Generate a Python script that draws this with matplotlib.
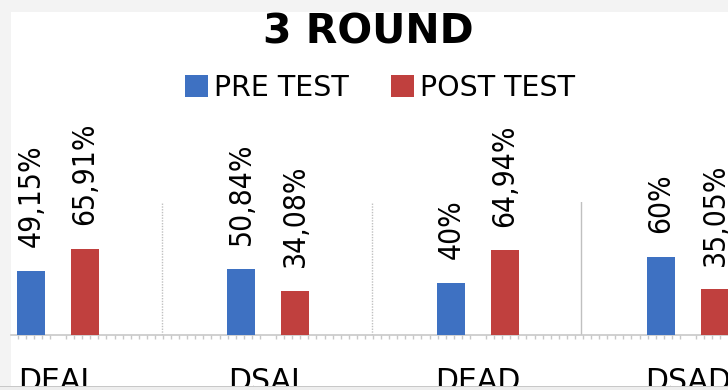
import matplotlib
matplotlib.use("Agg")
import matplotlib.pyplot as plt
from matplotlib.patches import Rectangle
from matplotlib.ticker import FixedLocator
import numpy as np

categories = ["DEAL", "DSAL", "DEAD", "DSAD"]
pre_test = [49.15, 50.84, 40, 60]
post_test = [65.91, 34.08, 64.94, 35.05]
series_names = ["PRE TEST", "POST TEST"]
title = "3 ROUND"

W, H = 728, 390
def fx(px): return px / W
def fy(py): return 1 - py / H

fig = plt.figure(figsize=(W / 100, H / 100), dpi=100, facecolor="#f3f3f3")
fig.add_artist(Rectangle((fx(11), fy(386)), fx(728) - fx(11), fy(12) - fy(386),
                         transform=fig.transFigure, facecolor="white",
                         edgecolor="none", zorder=-5))
fig.add_artist(Rectangle((0, 0), 1, fy(386), transform=fig.transFigure,
                         facecolor="#eeeeee", edgecolor="none", zorder=20))
fig.add_artist(Rectangle((0, fy(387)), 1, 1 / H, transform=fig.transFigure,
                         facecolor="#c8c8c8", edgecolor="none", zorder=21))

ax = fig.add_axes([fx(11), fy(335), fx(728) - fx(11), (335 - 202) / H])
ax.patch.set_alpha(0)
ax.set_xlim(-0.2238, 3.1905)
ax.set_ylim(0, 133 / 1.305)

x = np.arange(len(categories))
off = 27 / 210
wid = 28 / 210
blue = "#3E71C2"
red = "#C0403E"
ax.bar(x - off, pre_test, wid, color=blue, label=series_names[0], zorder=3)
ax.bar(x + off, post_test, wid, color=red, label=series_names[1], zorder=3)

def fmt(v):
    return f"{v:g}".replace(".", ",") + "%"

for xs, vals in ((x - off, pre_test), (x + off, post_test)):
    for xi, v in zip(xs, vals):
        ax.annotate(fmt(v), (xi, v), xytext=(0, 17), textcoords="offset points",
                    rotation=90, ha="center", va="bottom", fontsize=21.5,
                    fontfamily="DejaVu Sans", fontstretch="condensed",
                    annotation_clip=False, color="black")

for pos, ls in ((0.495, (0, (1, 1))), (1.495, (0, (1, 1))), (2.49, "-")):
    ax.axvline(pos, color="#c0c0c0", lw=1, ls=ls, zorder=1)

for s in ("top", "left", "right"):
    ax.spines[s].set_visible(False)
ax.spines["bottom"].set_color("#c8c8c8")
ax.spines["bottom"].set_linewidth(1.2)
ax.set_yticks([])
ax.set_xticks(x)
ax.set_xticklabels(categories, fontsize=21.5, fontfamily="DejaVu Sans")
minor = [0.5 + k / 26 for k in range(-20, 80)]
ax.xaxis.set_minor_locator(FixedLocator(minor))
ax.tick_params(axis="x", which="major", length=0, pad=23)
ax.tick_params(axis="x", which="minor", length=3, color="#c8c8c8", width=1)

fig.text(fx(368), fy(44), title, ha="center", va="baseline", fontsize=29.5,
         fontweight="bold", fontfamily="DejaVu Sans")

h, l = ax.get_legend_handles_labels()
fig.legend(h, l, loc="center", bbox_to_anchor=(fx(380), fy(88)), ncol=2,
           frameon=False, fontsize=20.5, handlelength=0.8, handleheight=0.8,
           handletextpad=0.2, columnspacing=1.5, borderaxespad=0, borderpad=0)

fig.savefig("out.png", dpi=100, facecolor=fig.get_facecolor())
